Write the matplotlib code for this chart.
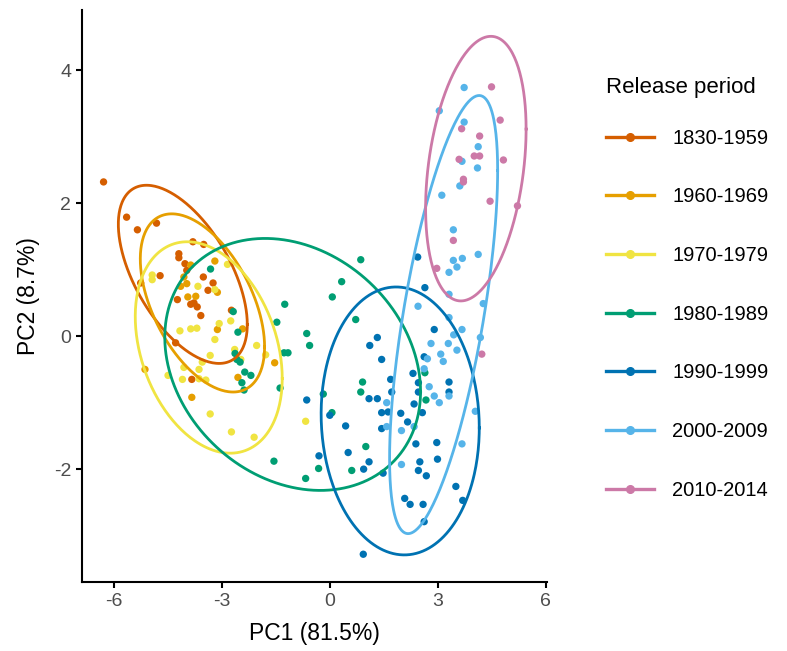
import numpy as np
import matplotlib
matplotlib.use("Agg")
import matplotlib.pyplot as plt
from matplotlib.lines import Line2D

plt.rcParams['font.family'] = ['Liberation Sans', 'DejaVu Sans']

# --- data (PC1, PC2 scores per release period) ---
periods = ['1830-1959', '1960-1969', '1970-1979', '1980-1989',
           '1990-1999', '2000-2009', '2010-2014']
colors = ['#D55E00', '#E69F00', '#F0E442', '#009E73',
          '#0072B2', '#56B4E9', '#CC79A7']

pc1_1830 = [-6.28, -5.64, -5.34, -4.81, -3.80, -3.50, -4.19, -4.19, -4.02, -3.97, -3.51, -3.24,
            -4.71, -5.25, -3.38, -4.23, -3.86, -3.77, -3.68, -3.58, -2.73, -4.28, -3.83]
pc2_1830 = [2.32, 1.79, 1.60, 1.70, 1.42, 1.38, 1.24, 1.18, 1.09, 0.99, 0.89, 0.80,
            0.91, 0.80, 0.69, 0.55, 0.48, 0.50, 0.44, 0.31, 0.39, -0.10, -0.65]

pc1_1960 = [-3.19, -3.86, -4.05, -4.14, -3.97, -3.94, -3.72, -3.12, -3.12, -2.42, -5.13, -1.53, -2.55, -3.83]
pc2_1960 = [1.13, 1.07, 0.89, 0.75, 0.79, 0.59, 0.60, 0.66, 0.10, 0.11, -0.50, -0.40, -0.62, -0.92]

pc1_1970 = [-4.93, -4.93, -3.66, -3.19, -2.84, -4.16, -3.86, -3.69, -3.07, -2.75, -3.19, -2.03, -1.78, -2.64,
            -2.47, -3.32, -3.54, -4.05, -3.63, -4.49, -4.09, -3.63, -3.44, -3.32, -2.73, -2.10, -0.67]
pc2_1970 = [0.92, 0.85, 0.75, 0.70, 1.08, 0.08, 0.11, 0.12, 0.19, 0.23, -0.05, -0.14, -0.28, -0.20,
            -0.35, -0.29, -0.39, -0.47, -0.50, -0.59, -0.65, -0.64, -0.66, -1.17, -1.44, -1.52, -1.28]

pc1_1980 = [-3.31, -2.68, -2.55, -1.25, -1.47, -1.27, -1.16, -1.38, -2.63, -2.58, -2.49, -2.36, -2.19, -2.44,
            -2.38, 0.33, 0.07, -0.64, -0.56, -0.18, 0.06, -1.55, -0.31, -0.67, 0.86, 0.72, 0.91, 0.86,
            1.00, 0.61, 2.64, 2.67]
pc2_1980 = [1.01, 0.37, 0.06, 0.48, 0.21, -0.25, -0.25, -0.78, -0.26, -0.35, -0.39, -0.54, -0.59, -0.70,
            -0.81, 0.82, 0.59, 0.04, -0.14, -0.87, -1.15, -1.88, -1.99, -2.14, 1.15, 0.25, -0.69, -0.84,
            -1.66, -2.02, -0.55, -0.96]

pc1_1990 = [2.44, 2.64, 2.90, 1.32, 1.11, 1.44, 2.62, 2.31, 2.46, 2.46, 3.31, 3.31, 1.69, 1.72, 1.09,
            1.32, 2.34, 1.44, 1.62, 1.97, 2.16, 2.57, 1.44, -0.64, 0.00, 0.44, 0.51, 1.09, 0.94, -0.30,
            1.48, 2.39, 2.97, 2.99, 2.50, 2.46, 2.68, 2.08, 2.23, 2.59, 2.62, 3.50, 3.69, 0.93]
pc2_1990 = [1.19, 0.73, 0.10, -0.02, -0.14, -0.35, -0.31, -0.56, -0.70, -0.84, -0.69, -0.84, -0.65, -0.84, -0.94,
            -0.94, -1.02, -1.15, -1.14, -1.16, -1.29, -1.15, -1.39, -0.96, -1.19, -1.35, -1.75, -1.89, -2.00, -1.80,
            -2.06, -1.62, -1.60, -1.85, -1.89, -2.02, -2.10, -2.44, -2.53, -2.53, -2.79, -2.26, -2.47, -3.28]

pc1_2000 = [3.73, 3.04, 3.73, 4.12, 3.67, 4.10, 3.61, 3.11, 3.43, 4.12, 3.43, 3.68, 3.53, 3.31, 3.31,
            2.45, 4.26, 3.31, 3.67, 3.44, 2.81, 3.29, 3.53, 3.08, 3.15, 2.71, 2.62, 2.76, 2.90, 3.04,
            3.31, 4.18, 4.04, 3.67, 1.58, 1.58, 1.99, 2.34, 1.99]
pc2_2000 = [3.74, 3.39, 3.22, 2.85, 2.63, 2.53, 2.26, 2.12, 1.60, 1.23, 1.14, 1.17, 1.04, 0.96, 0.63,
            0.45, 0.49, 0.28, 0.10, 0.02, -0.11, -0.11, -0.21, -0.27, -0.38, -0.34, -0.49, -0.76, -0.90, -1.00,
            -0.90, -0.02, -1.13, -1.62, -1.00, -1.36, -1.42, -1.36, -1.93]

pc1_2010 = [4.49, 4.73, 3.66, 4.16, 4.01, 4.16, 4.82, 3.59, 3.71, 3.71, 4.45, 5.21, 3.43, 2.97, 4.22]
pc2_2010 = [3.75, 3.25, 3.12, 3.01, 2.71, 2.71, 2.65, 2.66, 2.36, 2.32, 2.03, 1.96, 1.44, 1.02, -0.27]

pc1_all = [pc1_1830, pc1_1960, pc1_1970, pc1_1980, pc1_1990, pc1_2000, pc1_2010]
pc2_all = [pc2_1830, pc2_1960, pc2_1970, pc2_1980, pc2_1990, pc2_2000, pc2_2010]

# 95% ellipses: centre, x/y half-extent, covariance term
ell_cx = [-4.08, -3.535, -3.36, -1.03, 1.955, 3.16, 4.055]
ell_cy = [0.93, 0.50, -0.17, -0.425, -1.275, 0.325, 2.52]
ell_sx = [1.79, 1.725, 2.04, 3.55, 2.195, 1.50, 1.395]
ell_sy = [1.34, 1.34, 1.59, 1.895, 2.015, 3.295, 1.99]
ell_sxy = [-1.35, -1.14, -0.95, -1.45, -0.23, 3.25, 0.83]

# --- figure ---
fig = plt.figure(figsize=(7.87, 6.51), dpi=100)
ax = fig.add_axes([82.3 / 787, 1 - 581.5 / 651, (547 - 82.3) / 787, (581.5 - 10.4) / 651])

for i in range(len(periods)):
    ax.scatter(pc1_all[i], pc2_all[i], s=28, color=colors[i], edgecolors='none', zorder=2)

t = np.linspace(0, 2 * np.pi, 300)
for i in range(len(periods)):
    cov = np.array([[ell_sx[i] ** 2, ell_sxy[i]], [ell_sxy[i], ell_sy[i] ** 2]])
    L = np.linalg.cholesky(cov)
    pts = L @ np.vstack([np.cos(t), np.sin(t)])
    ax.plot(ell_cx[i] + pts[0], ell_cy[i] + pts[1], color=colors[i], lw=2.0, zorder=3)

ax.set_xlim(-6.87, 6.03)
ax.set_ylim(-3.69, 4.90)
ax.set_xticks([-6, -3, 0, 3, 6])
ax.set_yticks([-2, 0, 2, 4])
ax.set_xticklabels(['-6', '-3', '0', '3', '6'])
ax.set_yticklabels(['-2', '0', '2', '4'])

for side in ['top', 'right']:
    ax.spines[side].set_visible(False)
for side in ['left', 'bottom']:
    ax.spines[side].set_linewidth(1.5)
    ax.spines[side].set_color('black')
ax.tick_params(axis='both', length=4, width=1.5, color='black',
               labelsize=14, labelcolor='#4D4D4D', pad=4)

ax.set_xlabel('PC1 (81.5%)', fontsize=16.5, color='black', labelpad=9)
ax.set_ylabel('PC2 (8.7%)', fontsize=16.5, color='black', labelpad=10)

handles = [Line2D([0], [0], color=c, lw=2.4, marker='o', markersize=5.5) for c in colors]
leg = fig.legend(handles, periods, title='Release period', loc='upper left',
                 bbox_to_anchor=(606 / 787, 1 - 77 / 651), frameon=False,
                 fontsize=14.5, title_fontsize=16, handlelength=2.4,
                 handletextpad=0.9, labelspacing=1.97, borderpad=0, borderaxespad=0,
                 alignment='left')
leg._legend_box.sep = 22

fig.savefig('out.png', dpi=100)
